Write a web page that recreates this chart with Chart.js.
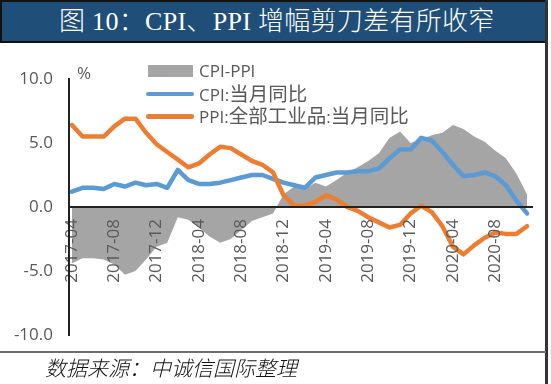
<!DOCTYPE html>
<html>
<head>
<meta charset="utf-8">
<script src="https://cdn.jsdelivr.net/npm/chart.js@4.4.0/dist/chart.umd.min.js"></script>
<style>
html,body{margin:0;padding:0;background:#fff;}
body{width:551px;height:384px;position:relative;overflow:hidden;font-family:"Open Sans","Noto Sans CJK SC",sans-serif;}
#chart{position:absolute;left:0;top:0;}
#title{position:absolute;left:0;top:0;width:543px;height:39px;background:#1f4e79;border:2px solid #111;}
#titleText{position:absolute;left:59px;top:4px;line-height:36px;font-size:26px;color:#fff;white-space:nowrap;font-family:"Liberation Serif","Noto Sans CJK SC",serif;font-weight:300;letter-spacing:0.3px;}
#rightLine{position:absolute;left:545px;top:0;width:2.5px;height:384px;background:#333;}
#footLine{position:absolute;left:0;top:351px;width:546px;height:2px;background:#6e6e6e;}
#footer{position:absolute;left:45px;top:355px;line-height:24px;font-size:21px;font-style:italic;color:#111;white-space:nowrap;font-family:"Noto Sans CJK SC",sans-serif;font-weight:300;}
#unit{position:absolute;left:77px;top:62px;font-size:17px;line-height:22px;color:#595959;}
#legend{position:absolute;left:146px;top:60px;}
.row{display:flex;align-items:center;height:22.5px;}
.sw{width:48px;height:22px;position:relative;margin-right:5px;}
.sw i{position:absolute;display:block;}
.lt{font-size:17px;color:#595959;white-space:nowrap;line-height:22px;}
.cjk{font-family:"Noto Sans CJK SC",sans-serif;font-size:19.5px;}
</style>
</head>
<body>
<canvas id="chart" width="551" height="384"></canvas>
<div id="title"></div>
<div id="titleText">图 10：CPI、PPI 增幅剪刀差有所收窄</div>
<div id="rightLine"></div>
<div id="footLine"></div>
<div id="footer">数据来源：中诚信国际整理</div>
<div id="unit">%</div>
<div id="legend"></div>
<script>
const categories = [
 '2017-04','2017-05','2017-06','2017-07','2017-08','2017-09','2017-10','2017-11','2017-12',
 '2018-01','2018-02','2018-03','2018-04','2018-05','2018-06','2018-07','2018-08','2018-09','2018-10','2018-11','2018-12',
 '2019-01','2019-02','2019-03','2019-04','2019-05','2019-06','2019-07','2019-08','2019-09','2019-10','2019-11','2019-12',
 '2020-01','2020-02','2020-03','2020-04','2020-05','2020-06','2020-07','2020-08','2020-09','2020-10','2020-11'
];
const cpiPpiGap = [
 -4.4,-4.0,-4.0,-4.1,-4.5,-5.3,-5.0,-4.1,-3.1,
 -2.8,-0.8,-1.0,-1.6,-2.3,-2.8,-2.5,-1.8,-1.1,-0.8,-0.5,1.0,
 1.6,1.4,1.9,1.6,2.1,2.7,3.1,3.6,4.2,5.4,5.9,5.0,
 5.3,5.6,5.8,6.4,6.1,5.5,5.1,4.4,3.8,2.6,1.0
];
const cpi = [
 1.2,1.5,1.5,1.4,1.8,1.6,1.9,1.7,1.8,
 1.5,2.9,2.1,1.8,1.8,1.9,2.1,2.3,2.5,2.5,2.2,1.9,
 1.7,1.5,2.3,2.5,2.7,2.7,2.8,2.8,3.0,3.8,4.5,4.5,
 5.4,5.2,4.3,3.3,2.4,2.5,2.7,2.4,1.7,0.5,-0.5
];
const ppi = [
 6.4,5.5,5.5,5.5,6.3,6.9,6.9,5.8,4.9,
 4.3,3.7,3.1,3.4,4.1,4.7,4.6,4.1,3.6,3.3,2.7,0.9,
 0.1,0.1,0.4,0.9,0.6,0.0,-0.3,-0.8,-1.2,-1.6,-1.4,-0.5,
 0.1,-0.4,-1.5,-3.1,-3.7,-3.0,-2.4,-2.0,-2.1,-2.1,-1.5
];
const yTicks = [-10, -5, 0, 5, 10];
const seriesNames = ['CPI-PPI', 'CPI:当月同比', 'PPI:全部工业品:当月同比'];
const seriesColors = ['#a5a5a5', '#5b9bd5', '#ed7d31'];
const labelEvery = 4;

const toPoints = arr => arr.map((v, i) => ({x: i, y: v}));
const tickFont = {family: 'Open Sans', size: 17};

const chart = new Chart(document.getElementById('chart'), {
  type: 'line',
  data: {
    datasets: [
      {label: seriesNames[0], data: toPoints(cpiPpiGap), fill: 'origin', backgroundColor: seriesColors[0],
       borderWidth: 0, borderColor: 'rgba(0,0,0,0)', pointRadius: 0, tension: 0, order: 3},
      {label: seriesNames[1], data: toPoints(cpi), fill: false, borderColor: seriesColors[1], borderWidth: 4.5,
       pointRadius: 0, tension: 0, borderJoinStyle: 'round', borderCapStyle: 'round', order: 2},
      {label: seriesNames[2], data: toPoints(ppi), fill: false, borderColor: seriesColors[2], borderWidth: 4.5,
       pointRadius: 0, tension: 0, borderJoinStyle: 'round', borderCapStyle: 'round', order: 1}
    ]
  },
  options: {
    responsive: false, animation: false, devicePixelRatio: 1,
    layout: {padding: {top: 79, bottom: 49, left: 0, right: 19}},
    plugins: {legend: {display: false}, tooltip: {enabled: false}},
    scales: {
      x: {
        type: 'linear', position: {y: 0}, min: -0.28, max: 43.47,
        afterBuildTicks: s => { s.ticks = categories.map((c, i) => ({value: i})).filter(t => t.value % labelEvery === 0); },
        ticks: {autoSkip: false, minRotation: 90, maxRotation: 90, padding: 12, color: '#595959', font: tickFont,
                z: 1, callback: v => categories[v]},
        grid: {display: false, drawTicks: false},
        border: {display: true, color: '#222', width: 2, z: 1}
      },
      y: {
        min: -10, max: 10,
        afterBuildTicks: s => { s.ticks = yTicks.map(v => ({value: v})); },
        afterFit: s => { s.width = 69; },
        ticks: {padding: 16, color: '#595959', font: tickFont, callback: v => Number(v).toFixed(1)},
        grid: {display: false, drawTicks: false},
        border: {display: true, color: '#222', width: 2, z: 1}
      }
    }
  }
});

// HTML legend built from the datasets
const wrapCjk = t => t.replace(/([\u3400-\u9fff]+)/g, '<span class="cjk">$1</span>');
const legend = document.getElementById('legend');
chart.data.datasets.forEach((ds, i) => {
  const row = document.createElement('div');
  row.className = 'row';
  const sw = document.createElement('div');
  sw.className = 'sw';
  const mark = document.createElement('i');
  if (ds.fill) {
    Object.assign(mark.style, {left: '2px', top: '5px', width: '45px', height: '12px', background: ds.backgroundColor});
  } else {
    Object.assign(mark.style, {left: '0px', top: '8.75px', width: '48px', height: '4.5px', background: ds.borderColor, borderRadius: '2.25px'});
  }
  sw.appendChild(mark);
  const lt = document.createElement('div');
  lt.className = 'lt';
  lt.innerHTML = wrapCjk(ds.label);
  row.appendChild(sw);
  row.appendChild(lt);
  legend.appendChild(row);
});
</script>
</body>
</html>
